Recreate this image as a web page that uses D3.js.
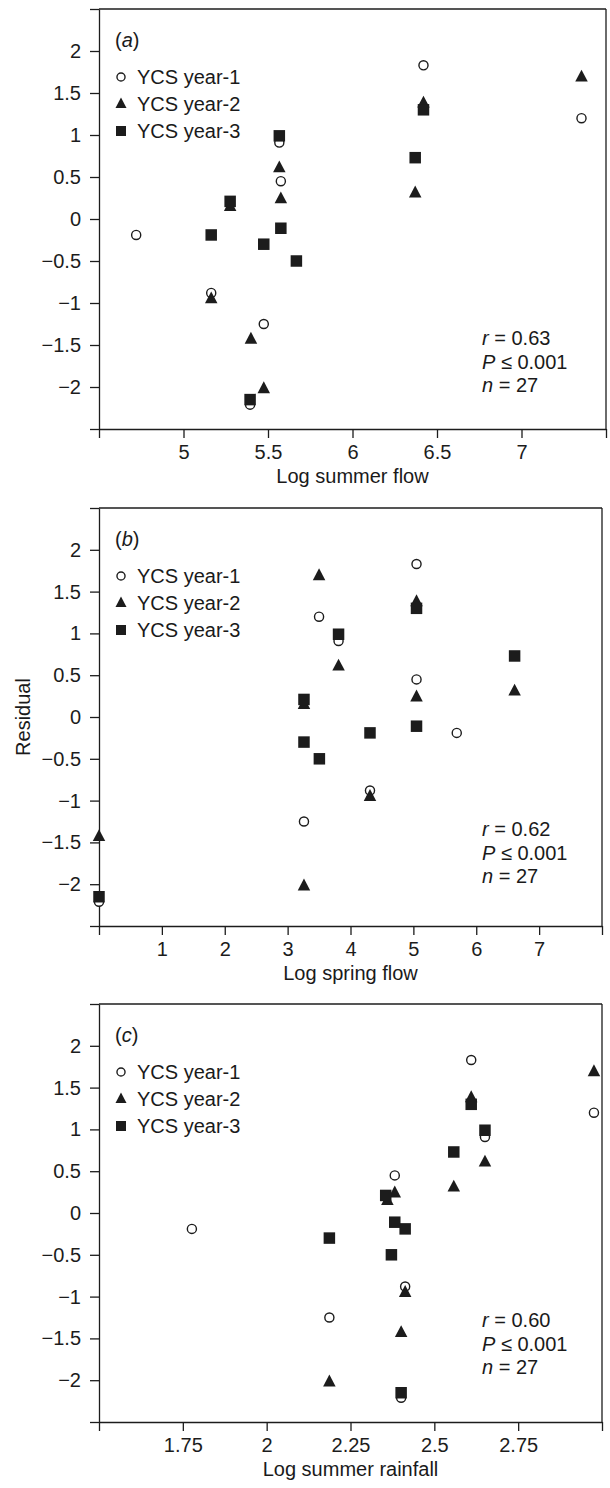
<!DOCTYPE html>
<html>
<head>
<meta charset="utf-8">
<script src="https://cdnjs.cloudflare.com/ajax/libs/d3/7.8.5/d3.min.js"></script>
<style>
  body { margin: 0; background: #fff; }
  text { font-family: "Liberation Sans", Arial, Helvetica, sans-serif; fill: #1a1a1a; }
</style>
</head>
<body>
<div id="vis"></div>
<script>
// residuals of each YCS year (the same points appear in all three panels)
var year1Resid = [-0.19, 1.83, 1.20, 0.91, 0.45, -0.88, -1.25, -2.21],
  year2Resid = [1.69, 1.38, 0.61, 0.24, 0.31, 0.15, -0.95, -1.43, -2.02],
  year3Resid = [0.99, 1.30, 0.73, 0.21, -0.19, -0.11, -0.30, -0.50, -2.15];

// log summer flow for each point
var summerFlow1 = [4.72, 6.42, 7.355, 5.567, 5.576, 5.164, 5.475, 5.394],
  summerFlow2 = [7.355, 6.42, 5.567, 5.576, 6.371, 5.276, 5.164, 5.399, 5.475],
  summerFlow3 = [5.567, 6.42, 6.371, 5.276, 5.164, 5.576, 5.475, 5.668, 5.394];

// log spring flow for each point
var springFlow1 = [5.69, 5.05, 3.50, 3.81, 5.05, 4.31, 3.26, 0],
  springFlow2 = [3.50, 5.05, 3.81, 5.05, 6.61, 3.26, 4.31, 0, 3.26],
  springFlow3 = [3.81, 5.05, 6.61, 3.26, 4.31, 5.05, 3.26, 3.505, 0];

// log summer rainfall for each point
var rainfall1 = [1.777, 2.61, 2.976, 2.651, 2.382, 2.413, 2.187, 2.401],
  rainfall2 = [2.976, 2.61, 2.651, 2.382, 2.558, 2.36, 2.413, 2.401, 2.187],
  rainfall3 = [2.651, 2.61, 2.558, 2.355, 2.413, 2.382, 2.187, 2.372, 2.401];

// tick values (end ticks carry no label)
var residualTicks = [-2.5, -2, -1.5, -1, -0.5, 0, 0.5, 1, 1.5, 2, 2.5],
  summerFlowTicks = [4.5, 5, 5.5, 6, 6.5, 7, 7.5],
  springFlowTicks = [0, 1, 2, 3, 4, 5, 6, 7, 8],
  rainfallTicks = [1.5, 1.75, 2, 2.25, 2.5, 2.75, 3];

var seriesNames = ["YCS year-1", "YCS year-2", "YCS year-3"],
  panelTags = ["a", "b", "c"],
  xTitles = ["Log summer flow", "Log spring flow", "Log summer rainfall"],
  rValues = ["0.63", "0.62", "0.60"],
  pValue = "0.001",
  nValue = 27;

var width = 610, height = 1488,
  left = 99,
  fontSize = "20px",
  ink = "#1c1c1c",
  svg;

// layout of the three stacked panels
var panels = [
  {tops: 9, bottom: 429, right: 606, xs: [summerFlow1, summerFlow2, summerFlow3], ticks: summerFlowTicks, statsY: -84},
  {tops: 508, bottom: 926, right: 602, xs: [springFlow1, springFlow2, springFlow3], ticks: springFlowTicks, statsY: -90},
  {tops: 1004, bottom: 1422, right: 602, xs: [rainfall1, rainfall2, rainfall3], ticks: rainfallTicks, statsY: -95}
];

var fmt = d3.format("");

// marker paths, centred on 0,0
function markerPath(kind, s) {
  if (kind == 1) {
    var h = s * 0.95;
    return "M0," + (-h * 0.62) + "L" + (s / 2) + "," + (h * 0.38) + "L" + (-s / 2) + "," + (h * 0.38) + "Z";
  }
  return "M" + (-s / 2) + "," + (-s / 2) + "h" + s + "v" + s + "h" + (-s) + "Z";
}

function drawMarker(g, kind, cx, cy, s) {
  if (kind == 0) {
    g.append("circle")
      .attr("cx", cx).attr("cy", cy).attr("r", s / 2 - 0.7)
      .style("fill", "#fff").style("stroke", ink).style("stroke-width", 1.4);
  } else {
    g.append("path")
      .attr("d", markerPath(kind, s))
      .attr("transform", "translate(" + cx + "," + cy + ")")
      .style("fill", ink);
  }
}

function init() {
  svg = d3.select("#vis").append("svg")
    .attr("width", width)
    .attr("height", height);

  panels.forEach(function(p, i) { drawPanel(p, i); });

  // shared y title, placed beside the middle panel
  svg.append("text")
    .attr("transform", "translate(30," + ((panels[1].tops + panels[1].bottom) / 2) + ") rotate(-90)")
    .style("text-anchor", "middle")
    .style("font-size", fontSize)
    .text("Residual");
}

function drawPanel(p, i) {
  var g = svg.append("g");
  var ticks = p.ticks;

  var x = d3.scaleLinear()
    .domain([ticks[0], ticks[ticks.length - 1]])
    .range([left, p.right]);

  var y = d3.scaleLinear()
    .domain([-2.5, 2.5])
    .range([p.bottom, p.tops]);

  // axes: all ticks drawn, the two end ones left unlabelled
  var xAxis = g.append("g")
    .attr("transform", "translate(0," + p.bottom + ")")
    .call(d3.axisBottom(x).tickValues(ticks).tickSize(9).tickSizeOuter(0).tickPadding(7)
      .tickFormat(function(d, k) { return (k == 0 || k == ticks.length - 1) ? "" : fmt(d); }));

  var yAxis = g.append("g")
    .attr("transform", "translate(" + left + ",0)")
    .call(d3.axisLeft(y).tickValues(residualTicks).tickSize(9).tickSizeOuter(0).tickPadding(9)
      .tickFormat(function(d, k) { return (k == 0 || k == residualTicks.length - 1) ? "" : fmt(d); }));

  [xAxis, yAxis].forEach(function(a) {
    a.selectAll("path, line").style("stroke", ink).style("stroke-width", 1.3);
    a.selectAll("text").style("font-size", fontSize).style("font-family", null).style("fill", ink);
  });

  // frame: top and right edges
  g.append("line")
    .attr("x1", left).attr("x2", p.right).attr("y1", p.tops).attr("y2", p.tops)
    .style("stroke", ink).style("stroke-width", 1.3);
  g.append("line")
    .attr("x1", p.right).attr("x2", p.right).attr("y1", p.tops).attr("y2", p.bottom)
    .style("stroke", ink).style("stroke-width", 1.3);

  // points: circles first, then triangles, squares on top
  var resid = [year1Resid, year2Resid, year3Resid];
  var sizes = [10.5, 12.5, 11.5];
  for (var s = 0; s < 3; s++) {
    for (var k = 0; k < resid[s].length; k++) {
      drawMarker(g, s, x(p.xs[s][k]), y(resid[s][k]), sizes[s]);
    }
  }

  // panel tag, e.g. (a)
  var tag = g.append("text")
    .attr("x", 115).attr("y", p.tops + 38)
    .style("font-size", fontSize);
  tag.append("tspan").text("(");
  tag.append("tspan").style("font-style", "italic").text(panelTags[i]);
  tag.append("tspan").text(")");

  // legend
  var legSizes = [9.5, 11, 10];
  seriesNames.forEach(function(name, s) {
    var ly = p.tops + 68 + s * 27;
    drawMarker(g, s, 121, ly, legSizes[s]);
    g.append("text")
      .attr("x", 137).attr("y", ly + 7.2)
      .style("font-size", fontSize)
      .text(name);
  });

  // statistics
  var sy = p.bottom + p.statsY;
  var lines = [["r", " = " + rValues[i]], ["P", " \u2264 " + pValue], ["n", " = " + nValue]];
  lines.forEach(function(l, j) {
    var t = g.append("text")
      .attr("x", 482).attr("y", sy + j * 23.5)
      .style("font-size", fontSize);
    t.append("tspan").style("font-style", "italic").text(l[0]);
    t.append("tspan").text(l[1]);
  });

  // x title
  g.append("text")
    .attr("x", (left + p.right) / 2)
    .attr("y", p.bottom + 54)
    .style("text-anchor", "middle")
    .style("font-size", fontSize)
    .text(xTitles[i]);
}

// draw everything
init();
</script>
</body>
</html>
